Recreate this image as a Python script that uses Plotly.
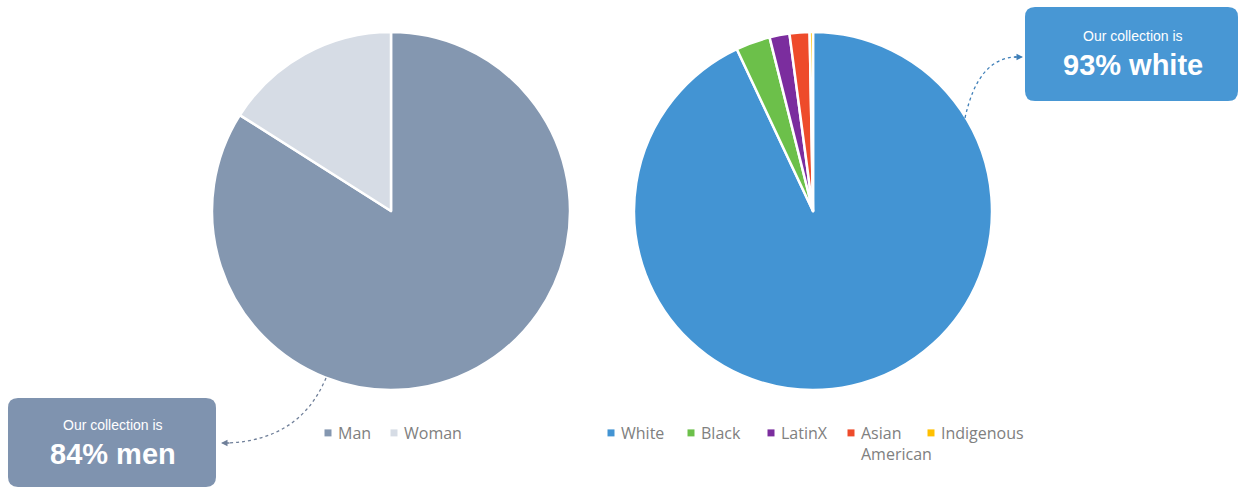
import plotly.graph_objects as go

W, H = 1240, 488

# ---- data ----
gender_labels = ["Man", "Woman"]
gender_values = [84, 16]
gender_colors = ["#8497B0", "#D6DCE5"]

race_labels = ["White", "Black", "LatinX", "Asian<br>American", "Indigenous"]
race_values = [93.0, 3.1, 1.8, 1.8, 0.3]
race_colors = ["#4394D3", "#6CC04A", "#7B2D9E", "#EE4B2B", "#FFC000"]

callout_small = "Our collection is"
callout_left = "84% men"
callout_right = "93% white"


def px(x):
    return x / W


def py(y):
    return 1 - y / H


def dom(cx, cy, r):
    return dict(x=[px(cx - r), px(cx + r)], y=[py(cy + r), py(cy - r)])


fig = go.Figure()
fig.add_trace(go.Pie(
    labels=gender_labels, values=gender_values, sort=False, direction="clockwise",
    rotation=0, textinfo="none", hoverinfo="label+percent",
    marker=dict(colors=gender_colors, line=dict(color="white", width=2.5)),
    domain=dom(391, 211, 179), legend="legend",
))
fig.add_trace(go.Pie(
    labels=race_labels, values=race_values, sort=False, direction="clockwise",
    rotation=0, textinfo="none", hoverinfo="label+percent",
    marker=dict(colors=race_colors, line=dict(color="white", width=2.5)),
    domain=dom(813, 211, 179), legend="legend2",
))


def rounded_rect(x0, y0, x1, y1, r):
    def P(x, y):
        return f"{px(x):.5f},{py(y):.5f}"
    return (f"M {P(x0 + r, y0)} L {P(x1 - r, y0)} Q {P(x1, y0)} {P(x1, y0 + r)} "
            f"L {P(x1, y1 - r)} Q {P(x1, y1)} {P(x1 - r, y1)} L {P(x0 + r, y1)} "
            f"Q {P(x0, y1)} {P(x0, y1 - r)} L {P(x0, y0 + r)} Q {P(x0, y0)} {P(x0 + r, y0)} Z")


def curve(x0, y0, cx, cy, x1, y1):
    return f"M {px(x0):.5f},{py(y0):.5f} Q {px(cx):.5f},{py(cy):.5f} {px(x1):.5f},{py(y1):.5f}"


shapes = [
    dict(type="path", xref="paper", yref="paper", path=rounded_rect(8, 398, 216, 487, 10),
         fillcolor="#7F93AF", line=dict(width=0)),
    dict(type="path", xref="paper", yref="paper", path=rounded_rect(1025, 7, 1238, 101, 10),
         fillcolor="#4897D4", line=dict(width=0)),
    dict(type="path", xref="paper", yref="paper", path=curve(326, 378, 300, 440, 228, 443),
         line=dict(color="#6F7F99", width=1.3, dash="dot")),
    dict(type="path", xref="paper", yref="paper", path=curve(965, 118, 978, 58, 1016, 57),
         line=dict(color="#3F7FB8", width=1.3, dash="dot")),
]

font_box = "Liberation Sans, Arial, sans-serif"
annotations = [
    dict(x=px(113), y=py(425), xref="paper", yref="paper", text=callout_small, showarrow=False,
         xanchor="center", yanchor="middle",
         font=dict(family=font_box, size=14, color="white")),
    dict(x=px(113), y=py(454), xref="paper", yref="paper", text=f"<b>{callout_left}</b>", showarrow=False,
         xanchor="center", yanchor="middle",
         font=dict(family=font_box, size=29, color="white")),
    dict(x=px(1133), y=py(36), xref="paper", yref="paper", text=callout_small, showarrow=False,
         xanchor="center", yanchor="middle",
         font=dict(family=font_box, size=14, color="white")),
    dict(x=px(1133), y=py(65), xref="paper", yref="paper", text=f"<b>{callout_right}</b>", showarrow=False,
         xanchor="center", yanchor="middle",
         font=dict(family=font_box, size=29, color="white")),
    # arrow heads
    dict(x=px(221), y=py(443), xref="paper", yref="paper", ax=10, ay=0, text="", showarrow=True,
         arrowhead=2, arrowsize=1, arrowwidth=1.3, arrowcolor="#6F7F99"),
    dict(x=px(1023), y=py(57), xref="paper", yref="paper", ax=-10, ay=0, text="", showarrow=True,
         arrowhead=2, arrowsize=1, arrowwidth=1.3, arrowcolor="#3F7FB8"),
]

legend_font = dict(family="Open Sans, Noto Sans, sans-serif", size=16, color="#808080")

fig.update_layout(
    width=W, height=H, margin=dict(l=0, r=0, t=0, b=0),
    paper_bgcolor="white", plot_bgcolor="white",
    shapes=shapes, annotations=annotations,
    legend=dict(orientation="h", x=px(298), y=py(416), xanchor="left", yanchor="top",
                font=legend_font, bgcolor="rgba(0,0,0,0)", itemclick=False,
                entrywidth=21, entrywidthmode="pixels", tracegroupgap=0, valign="top"),
    legend2=dict(orientation="h", x=px(581), y=py(416), xanchor="left", yanchor="top",
                 font=legend_font, bgcolor="rgba(0,0,0,0)", itemclick=False,
                 entrywidth=35, entrywidthmode="pixels", tracegroupgap=0, valign="top"),
)

post = """
document.body.style.margin='0';
document.body.style.overflow='hidden';
document.querySelectorAll('.legend .scrollbox, .legend2 .scrollbox').forEach(function(e){e.removeAttribute('clip-path');});
document.querySelectorAll('.legendpie').forEach(function(p){
  p.setAttribute('d','M13.5,3.5H6.5V-3.5H13.5Z');
  p.style.strokeWidth='0';
});
"""

fig.write_html("out.html", config={"displayModeBar": False}, post_script=post)
